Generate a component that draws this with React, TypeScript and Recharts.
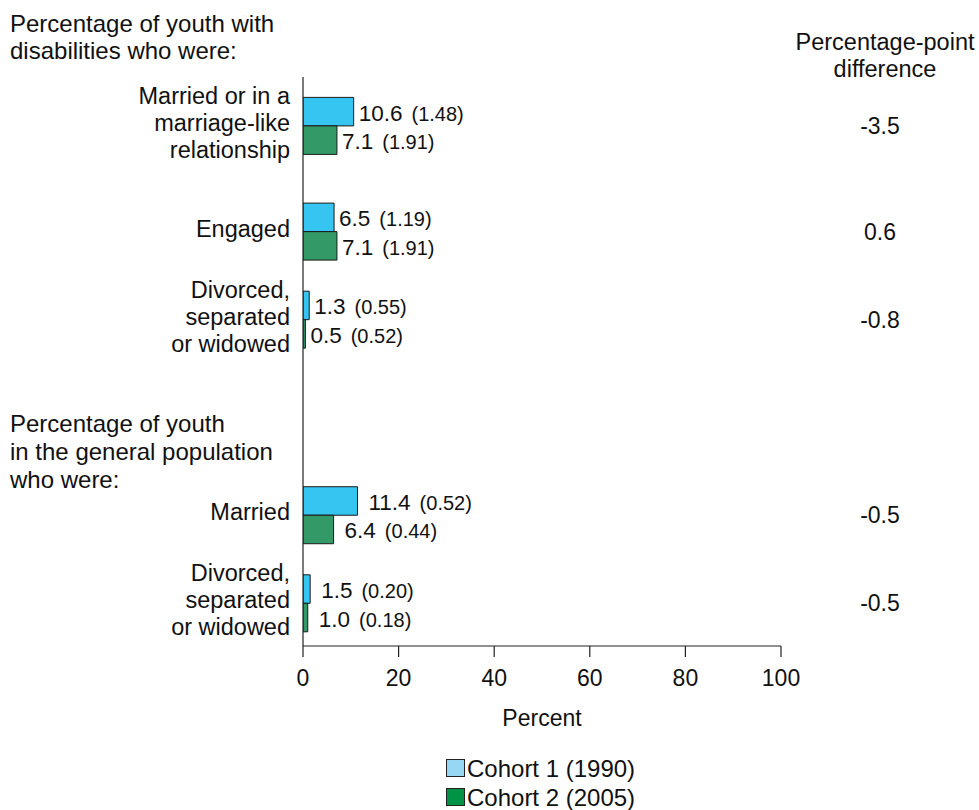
import React from 'react';
import { BarChart, Bar, XAxis, YAxis, LabelList } from 'recharts';

const FONT = "'Liberation Sans', Arial, Helvetica, sans-serif";
const INK = '#111';

// rows, top to bottom
const categories = [
  ['Married or in a', 'marriage-like', 'relationship'],
  ['Engaged'],
  ['Divorced,', 'separated', 'or widowed'],
  ['Married'],
  ['Divorced,', 'separated', 'or widowed'],
];
// row slots on the category axis (gap after row 3 holds the second heading)
const rowSlots = [0, 1.2, 2.2, 4.42, 5.42];

const cohort1 = [10.6, 6.5, 1.3, 11.4, 1.5];
const cohort1Se = [1.48, 1.19, 0.55, 0.52, 0.2];
const cohort2 = [7.1, 7.1, 0.5, 6.4, 1.0];
const cohort2Se = [1.91, 1.91, 0.52, 0.44, 0.18];
const differences = ['-3.5', '0.6', '-0.8', '-0.5', '-0.5'];

const xTicks = [0, 20, 40, 60, 80, 100];

const data = rowSlots.map((slot, i) => ({
  slot,
  c1: cohort1[i],
  c2: cohort2[i],
  diff: differences[i],
}));

function CategoryTick(props: any) {
  const { x, y, payload } = props;
  const idx = rowSlots.indexOf(payload.value);
  const lines = categories[idx] || [];
  const lh = 27;
  return (
    <text x={x} y={y} textAnchor="end" fontSize={23.5} fontFamily={FONT} fill={INK}>
      {lines.map((l, i) => (
        <tspan key={i} x={x} y={y + 5.5 + (i - (lines.length - 1) / 2) * lh}>
          {l}
        </tspan>
      ))}
    </text>
  );
}

const valueLabel = (values: number[], ses: number[]) => (props: any) => {
  const { x, y, width, height, index } = props;
  const gap = index < 3 ? 5 : 11;
  return (
    <text
      x={Number(x) + Number(width) + gap}
      y={Number(y) + Number(height) / 2 + 9}
      fontSize={22.5}
      fontFamily={FONT}
      fill={INK}
    >
      {values[index].toFixed(1)}
      <tspan fontSize={20} dx={9}>
        ({ses[index].toFixed(2)})
      </tspan>
    </text>
  );
};

const diffLabel = (props: any) => {
  const { y, height, index } = props;
  return (
    <text x={880} y={Number(y) + Number(height) + 8} textAnchor="middle" fontSize={23} fontFamily={FONT} fill={INK}>
      {differences[index]}
    </text>
  );
};

export default function App() {
  return (
    <div style={{ position: 'absolute', left: 0, top: 0, width: 979, height: 810, background: '#fff' }}>
      <BarChart
        width={979}
        height={810}
        layout="vertical"
        data={data}
        margin={{ top: 77, right: 198, bottom: 84, left: 0 }}
        barSize={28.5}
        barGap={0}
        barCategoryGap={0}
      >
        <XAxis
          type="number"
          domain={[0, 100]}
          ticks={xTicks}
          interval={0}
          allowDataOverflow
          tickSize={11}
          tickMargin={13}
          axisLine={{ stroke: '#222', strokeWidth: 1.2 }}
          tickLine={{ stroke: '#222', strokeWidth: 1.2 }}
          tick={{ fontSize: 23, fill: INK, fontFamily: FONT }}
          height={80}
          label={{ value: 'Percent', position: 'insideBottom', offset: 0, fontSize: 23, fill: INK, fontFamily: FONT }}
        />
        <YAxis
          type="number"
          dataKey="slot"
          domain={[-0.55, 5.91]}
          ticks={rowSlots}
          interval={0}
          allowDataOverflow
          width={303}
          tickSize={0}
          tickMargin={13}
          axisLine={{ stroke: '#222', strokeWidth: 1.2 }}
          tickLine={false}
          tick={<CategoryTick />}
        />
        <Bar dataKey="c1" fill="#36C5F0" stroke="#1a1a1a" strokeWidth={1} isAnimationActive={false}>
          <LabelList dataKey="c1" content={valueLabel(cohort1, cohort1Se)} />
          <LabelList dataKey="diff" content={diffLabel} />
        </Bar>
        <Bar dataKey="c2" fill="#339966" stroke="#1a1a1a" strokeWidth={1} isAnimationActive={false}>
          <LabelList dataKey="c2" content={valueLabel(cohort2, cohort2Se)} />
        </Bar>
      </BarChart>

      <svg
        width={979}
        height={810}
        style={{ position: 'absolute', left: 0, top: 0, pointerEvents: 'none' }}
        fontFamily={FONT}
        fontSize={24}
        fill={INK}
      >
        <text x={10} y={32}>Percentage of youth with</text>
        <text x={10} y={59}>disabilities who were:</text>

        <text x={10} y={432}>Percentage of youth</text>
        <text x={10} y={460}>in the general population</text>
        <text x={10} y={488}>who were:</text>

        <text x={885} y={50} textAnchor="middle" fontSize={23.5}>Percentage-point</text>
        <text x={885} y={77} textAnchor="middle" fontSize={23.5}>difference</text>

        <rect x={446.5} y={759.5} width={18} height={17} fill="#96D8F4" stroke="#222" />
        <text x={467} y={777}>Cohort 1 (1990)</text>
        <rect x={446.5} y={788.5} width={18} height={17} fill="#009245" stroke="#222" />
        <text x={467} y={806}>Cohort 2 (2005)</text>
      </svg>
    </div>
  );
}
